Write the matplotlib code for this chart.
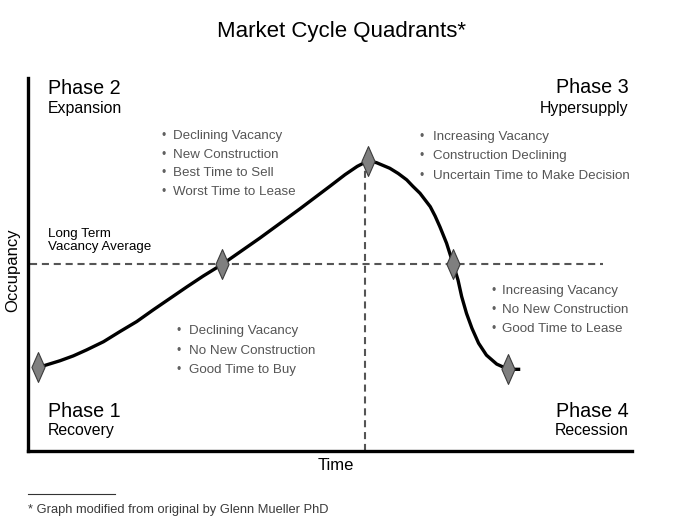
import numpy as np
import matplotlib
matplotlib.use('Agg')
import matplotlib.pyplot as plt
from matplotlib.path import Path
from matplotlib.lines import Line2D
from matplotlib import font_manager

#####################################
# datos (tiempo 0-100, ocupacion 0-100)
curve_t = [1.7, 3.1, 5.3, 7.5, 9.7, 12.5, 15.2, 18.0, 20.7, 23.5, 26.3, 29.0, 32.2,
           38.4, 45.0, 50.0, 52.5, 54.5, 56.3,
           57.7, 59.9, 61.3, 62.7, 63.7, 64.9, 66.6, 67.4, 68.2, 69.3, 70.4,
           71.2, 71.8, 72.6, 73.5, 74.6, 75.9, 77.6, 79.5, 81.5]
curve_occ = [22.4, 23.1, 24.2, 25.5, 27.1, 29.3, 32.0, 34.7, 37.8, 40.9, 44.0, 46.9, 50.1,
             57.1, 64.9, 71.0, 74.1, 76.3, 77.8,
             77.3, 75.8, 74.4, 72.7, 71.0, 69.1, 65.5, 63.0, 60.1, 55.7, 50.1,
             45.8, 41.4, 36.9, 32.9, 28.9, 25.7, 23.3, 21.9, 21.9]
marker_t = [1.7, 32.2, 56.3, 70.4, 79.5]
marker_occ = [22.4, 50.1, 77.8, 50.1, 21.9]
avg_occ = 50.1      # long term vacancy average
avg_end_t = 95.2
peak_t = 55.8
peak_top = 76.7

phases = ["Phase 1", "Phase 2", "Phase 3", "Phase 4"]
phase_names = ["Recovery", "Expansion", "Hypersupply", "Recession"]
notes_recovery = ["Declining Vacancy", "No New Construction", "Good Time to Buy"]
notes_expansion = ["Declining Vacancy", "New Construction", "Best Time to Sell",
                   "Worst Time to Lease"]
notes_hyper = ["Increasing Vacancy", "Construction Declining",
               "Uncertain Time to Make Decision"]
notes_recession = ["Increasing Vacancy", "No New Construction", "Good Time to Lease"]
#######################################################################

W, H = 696, 524
names = set(f.name for f in font_manager.fontManager.ttflist)
regular = 'Liberation Sans' if 'Liberation Sans' in names else 'DejaVu Sans'
narrow = 'Liberation Sans Narrow' if 'Liberation Sans Narrow' in names else regular
narrow_size = 11 if narrow != regular else 9.6
foot_size = 11 if narrow != regular else 9.3
plt.rcParams['font.family'] = [regular, 'DejaVu Sans']

fig = plt.figure(figsize=(W/100, H/100), dpi=100)
fig.patch.set_facecolor('white')

def px(x, y):
    return x / W, 1 - y / H

def txt(x, y, s, **kw):
    kw.setdefault('va', 'baseline')
    fig.text(*px(x, y), s, **kw)

ax = fig.add_axes([28/W, (H-451)/H, 604/W, 373/H])
ax.set_xlim(0, 100)
ax.set_ylim(0, 100)
for s in ['top', 'right']:
    ax.spines[s].set_visible(False)
for s in ['left', 'bottom']:
    ax.spines[s].set_linewidth(2.4)
    ax.spines[s].set_color('black')
ax.set_xticks([])
ax.set_yticks([])
ax.patch.set_alpha(0)

# lineas de referencia
ax.plot([0.3, avg_end_t], [avg_occ, avg_occ], color='#555555', lw=1.5,
        dashes=(3.4, 2.3), zorder=1)
ax.plot([peak_t, peak_t], [0, peak_top], color='#555555', lw=1.5,
        dashes=(3.4, 2.3), zorder=1)

# curva
ax.plot(curve_t, curve_occ, color='black', lw=2.4, zorder=2, clip_on=False,
        solid_capstyle='butt', solid_joinstyle='round')
diamante = Path([(0, 1), (0.44, 0), (0, -1), (-0.44, 0), (0, 1)],
                [Path.MOVETO, Path.LINETO, Path.LINETO, Path.LINETO, Path.CLOSEPOLY])
ax.plot(marker_t, marker_occ, ls='none', marker=diamante, markersize=21.5,
        markerfacecolor='#7f7f7f', markeredgecolor='#3c3c3c', markeredgewidth=0.8,
        zorder=3, clip_on=False)

# titulo y ejes
txt(341.5, 36.7, "Market Cycle Quadrants*", ha='center', fontsize=16)
txt(336, 470, "Time", ha='center', fontsize=12)
fig.text(*px(12.5, 270), "Occupancy", rotation=90, ha='center', va='center',
         fontsize=12)
txt(47.7, 236.7, "Long Term", fontsize=9.6)
txt(47.7, 250, "Vacancy Average", fontsize=9.6)

# fases
txt(48, 416.7, phases[0], fontsize=14.2)
txt(48, 434.5, phase_names[0], fontsize=11.4)
txt(47.7, 94.3, phases[1], fontsize=14.2)
txt(47.7, 112.7, phase_names[1], fontsize=11.4)
txt(628.3, 93.3, phases[2], ha='right', fontsize=14.2)
txt(628.3, 112.7, phase_names[2], ha='right', fontsize=11.4)
txt(628.3, 416.7, phases[3], ha='right', fontsize=14.2)
txt(628.3, 435, phase_names[3], ha='right', fontsize=11.4)

def bullets(items, bx, tx, y0, dy):
    for i, s in enumerate(items):
        y = y0 + i * dy
        txt(bx, y, u"\u2022", ha='center', fontsize=narrow_size - 1,
            color='#606060', family=[narrow, 'DejaVu Sans'])
        txt(tx, y, s, fontsize=narrow_size, color='#555555',
            family=[narrow, 'DejaVu Sans'])

bullets(notes_expansion, 164, 172.7, 139, 18.7)
bullets(notes_hyper, 421.7, 433.3, 140, 19.5)
bullets(notes_recovery, 178.3, 189, 334, 19.7)
bullets(notes_recession, 493.3, 501.7, 294, 19.2)

# nota al pie
fig.add_artist(Line2D([28/W, 115/W], [1-494/H, 1-494/H], color='#333333', lw=0.8))
txt(28, 512.5, "* Graph modified from original by Glenn Mueller PhD",
    fontsize=foot_size, color='#3a3a3a', family=[narrow, 'DejaVu Sans'])

fig.savefig('out.png', dpi=100, facecolor='white')
